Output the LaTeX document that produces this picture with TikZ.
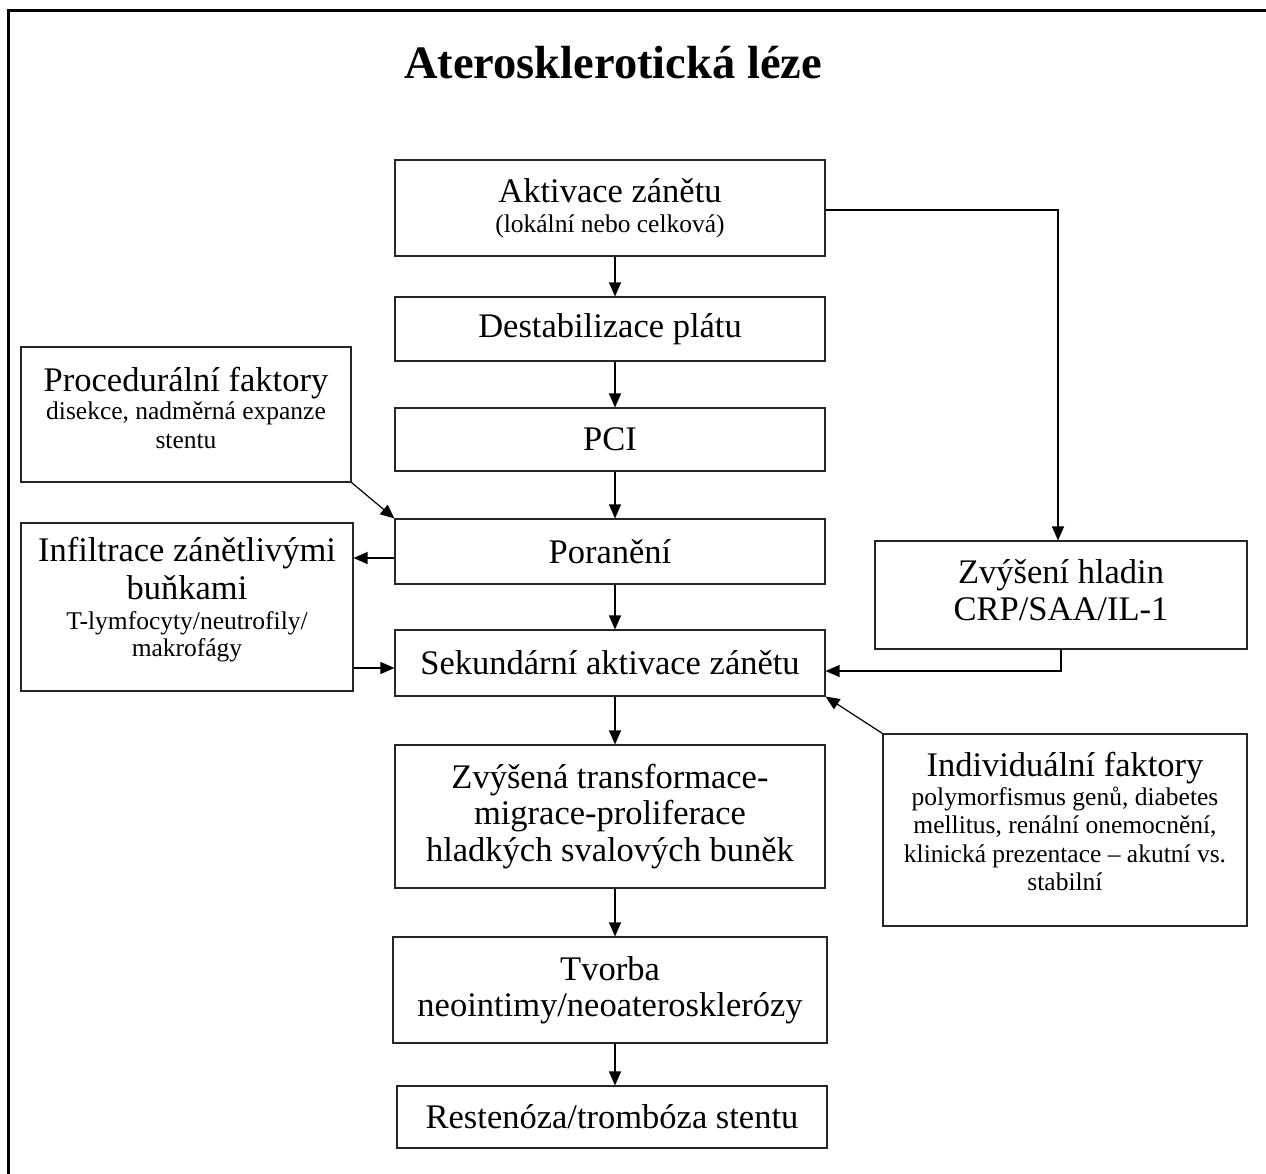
\documentclass[tikz,border=0pt]{standalone}
\usepackage{fontspec}
\setmainfont{Liberation Serif}
\usetikzlibrary{arrows.meta,calc}
\newcommand\mainf{\fontsize{34.5}{28.5}\selectfont\lineskiplimit=-100pt\lineskip=0pt\relax}
\newcommand\subf{\fontsize{25.5}{28.5}\selectfont}
\tikzset{
  box/.style={draw=black!85, line width=1.1pt, rectangle, inner sep=0pt, align=center, font=\mainf},
  txt/.style={inner sep=0pt, align=center, font=\mainf},
  arr/.style={draw=black, line width=1.2pt, -{Triangle[length=14pt,width=12pt]}},
}
\begin{document}
\begin{tikzpicture}[x=1pt,y=-1pt]
\useasboundingbox[fill=white] (0,0) rectangle (1266,1173);
\clip (0,0) rectangle (1266,1173);
\draw[line width=3pt] (1290,10) -- (8,10) -- (8,1200);
\node[font=\fontsize{46.5}{50}\selectfont\bfseries] (title) at (613,63) {Aterosklerotická léze};

\node[box, minimum width=430pt, minimum height=96pt] (akt) at (610,208)
  {Aktivace zánětu\\[1.5pt]\subf (lokální nebo celková)};
\node[box, minimum width=430pt, minimum height=64pt] (dest) at (610,329) {Destabilizace plátu};
\node[box, minimum width=430pt, minimum height=63pt] (pci) at (610,439.5) {PCI};
\node[box, minimum width=430pt, minimum height=65pt] (por) at (610,551.5) {Poranění};
\node[box, minimum width=430pt, minimum height=66pt] (sek) at (610,663) {Sekundární aktivace zánětu};
\node[box, minimum width=430pt, minimum height=143pt] (zvt) at (610,816.5)
  {Zvýšená transformace-\\[8pt]migrace-proliferace\\[8pt]hladkých svalových buněk};
\node[box, minimum width=434pt, minimum height=106pt] (tvo) at (610,990)
  {Tvorba\\[7pt]neointimy/neoaterosklerózy};
\node[box, minimum width=430pt, minimum height=62pt] (res) at (612,1117) {Restenóza/trombóza stentu};

\node[box, minimum width=330pt, minimum height=135pt] (proc) at (186,414.5) {};
\node[txt] (procT) at ([yshift=7pt]proc.center)
  {Procedurální faktory\\\subf disekce, nadměrná expanze\\\subf stentu};
\node[box, minimum width=332pt, minimum height=168pt] (inf) at (187,607) {};
\node[txt] (infT) at ([yshift=7pt]inf.center)
  {Infiltrace zánětlivými\\[9pt]buňkami\\[2pt]\subf T-lymfocyty/neutrofily/\\[-1.5pt]\subf makrofágy};
\node[box, minimum width=372pt, minimum height=108pt] (zvh) at (1061,595) {};
\node[txt] (zvhT) at ([yshift=5pt]zvh.center)
  {Zvýšení hladin\\[8pt]CRP/SAA/IL-1};
\node[box, minimum width=364pt, minimum height=192pt] (ind) at (1065,830) {};
\node[txt] (indT) at ([yshift=8.5pt]ind.center)
  {Individuální faktory\\\subf polymorfismus genů, diabetes\\\subf mellitus, renální onemocnění,\\\subf klinická prezentace – akutní vs.\\\subf stabilní};

\draw[arr] ([xshift=5pt]akt.south) -- ([xshift=5pt]dest.north);
\draw[arr] ([xshift=5pt]dest.south) -- ([xshift=5pt]pci.north);
\draw[arr] ([xshift=5pt]pci.south) -- ([xshift=5pt]por.north);
\draw[arr] ([xshift=5pt]por.south) -- ([xshift=5pt]sek.north);
\draw[arr] ([xshift=5pt]sek.south) -- ([xshift=5pt]zvt.north);
\draw[arr] ([xshift=5pt]zvt.south) -- ([xshift=5pt]tvo.north);
\draw[arr] ([xshift=5pt]tvo.south) -- ([xshift=3pt]res.north);

\draw[arr] ([yshift=-2pt]akt.east) -| ([xshift=-3pt]zvh.north);
\draw[arr] (zvh.south) |- ([yshift=-8pt]sek.east);
\draw[arr] (ind.north west) -- (sek.south east);
\draw[arr] (proc.south east) -- (por.north west);
\draw[arr] ([yshift=-6.5pt]por.west) -- ([yshift=-6.5pt]por.west -| inf.east);
\draw[arr] ([yshift=-5pt]sek.west -| inf.east) -- ([yshift=-5pt]sek.west);
\end{tikzpicture}
\end{document}
